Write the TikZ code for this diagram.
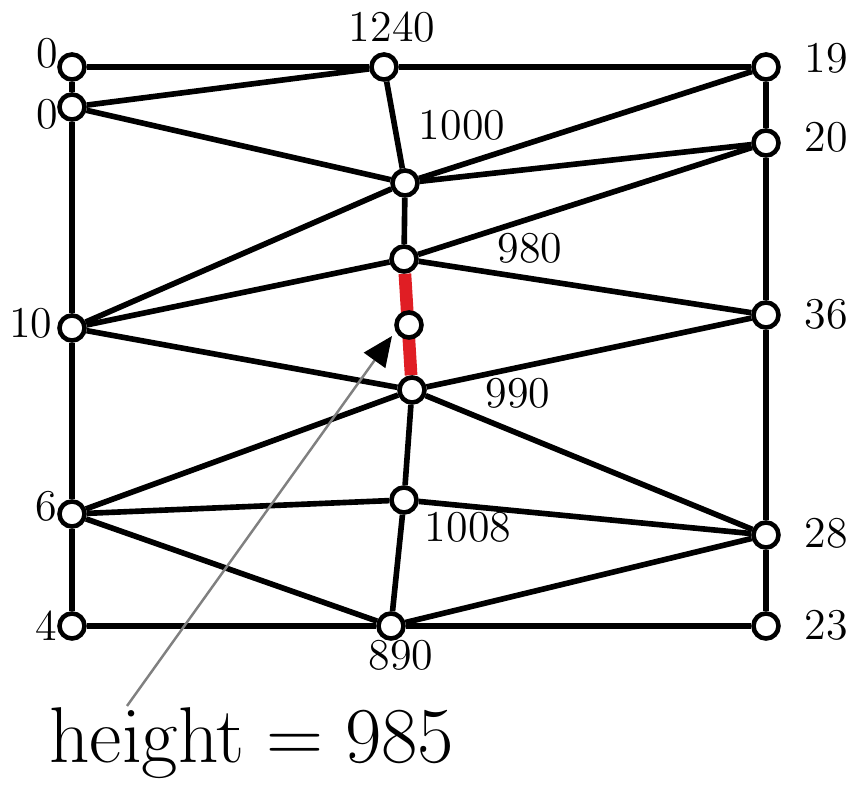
\RequirePackage{fix-cm}
\documentclass[tikz,border=0pt]{standalone}
\usepackage{amsmath}
\usetikzlibrary{arrows.meta, positioning, backgrounds}
\definecolor{hired}{RGB}{224,30,36}
\tikzset{
    vert/.style={circle, draw, fill=white, line width=1.3pt, inner sep=0pt, minimum size=0.25cm},
    edge/.style={line width=1.6pt},
    hilite/.style={line width=3.6pt, hired},
    num/.style={font=\fontsize{12.5}{14}\selectfont, inner sep=0pt},
    pointer/.style={-{Triangle[length=3mm, width=2.6mm, color=black]}, gray, line width=0.7pt},
}

\begin{document}
\begin{tikzpicture}[x=0.01cm, y=-0.01cm]
    \useasboundingbox (0,0) rectangle (854,789);

    % Left column
    \node[vert] (l1) at (72,67) {};
    \node[vert] (l2) at (72,107) {};
    \node[vert] (l3) at (72,328) {};
    \node[vert] (l4) at (72,514) {};
    \node[vert] (l5) at (72,626) {};
    % Right column
    \node[vert] (r1) at (766,67) {};
    \node[vert] (r2) at (766,143) {};
    \node[vert] (r3) at (766,315) {};
    \node[vert] (r4) at (766,535) {};
    \node[vert] (r5) at (766,626) {};
    % Middle
    \node[vert] (top) at (384,67) {};
    \node[vert] (m1) at (405,183) {};
    \node[vert] (m2) at (404,259) {};
    \node[vert] (q) at (409,325) {};
    \node[vert] (m3) at (412,390) {};
    \node[vert] (m4) at (404,500) {};
    \node[vert] (bot) at (391,626) {};

    % Heights
    \node[num] (hl1) at (47,53) {0};
    \node[num] (hl2) at (47,114) {0};
    \node[num] (hl3) at (31,323) {10};
    \node[num] (hl4) at (46,506) {6};
    \node[num] (hl5) at (46,626) {4};
    \node[num] (hr1) at (826,58) {19};
    \node[num] (hr2) at (826,137) {20};
    \node[num] (hr3) at (826,314) {36};
    \node[num] (hr4) at (826,533) {28};
    \node[num] (hr5) at (826,625) {23};
    \node[num] (htop) at (392,27) {1240};
    \node[num] (hm1) at (462,125) {1000};
    \node[num] (hm2) at (530,248) {980};
    \node[num] (hm3) at (518,393) {990};
    \node[num] (hm4) at (468,527) {1008};
    \node[num] (hbot) at (401,655) {890};

    % Triangulation edges
    \begin{scope}[on background layer]
        \foreach \a/\b in {l1/top, top/r1, l1/l2, l2/l3, l3/l4, l4/l5, l5/bot, bot/r5,
                           r1/r2, r2/r3, r3/r4, r4/r5, l2/top, l2/m1, top/m1, m1/r1,
                           m1/r2, m1/l3, m1/m2, m2/r2, m2/l3, m2/r3, l3/m3, m3/r3,
                           m3/l4, m3/m4, m3/r4, l4/m4, m4/r4, l4/bot, bot/m4, bot/r4}
            \draw[edge] (\a) -- (\b);
        \draw[hilite] (m2) -- (m3);
    \end{scope}

    % Query point
    \coordinate (tail) at (127,706);
    \coordinate (tip) at (392,336);
    \draw[pointer] (tail) -- (tip);
    \node[font=\fontsize{22.5}{26}\selectfont, inner sep=0pt, anchor=base] (query) at (252,763) {$\mathrm{height} = 985$};
\end{tikzpicture}
\end{document}
